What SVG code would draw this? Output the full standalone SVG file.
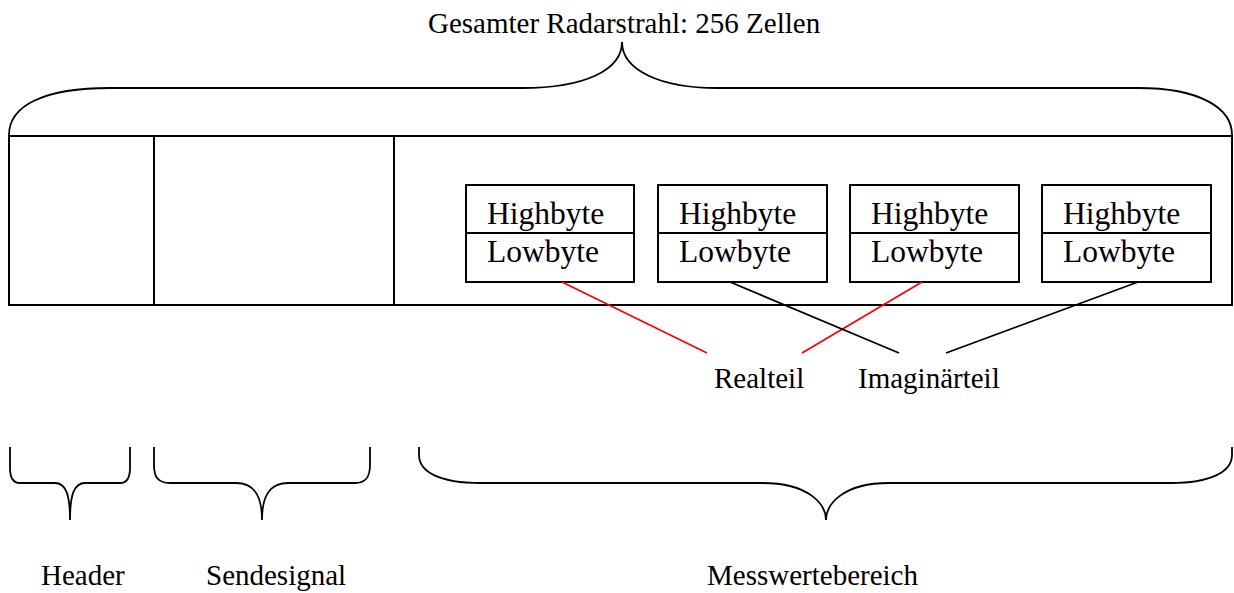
<svg xmlns="http://www.w3.org/2000/svg" width="1234" height="593" viewBox="0 0 1234 593">
<style>
.ln{fill:none;stroke:#000;stroke-width:2}
.br{fill:none;stroke:#000;stroke-width:1.8}
.t{font-family:"Liberation Serif","Times New Roman",serif;font-size:29px;fill:#000}
.bt{font-family:"Liberation Serif","Times New Roman",serif;font-size:31.5px;fill:#000}
.red{stroke:#f00;stroke-width:1.8;fill:none}
.blk{stroke:#000;stroke-width:1.8;fill:none}
</style>
<rect width="1234" height="593" fill="#fff"/>
<g id="title">
<path class="br" d="M9,135 C9,105 45,88 110,88 L522,88 C585,88 622,70 622,42 C622,70 660,88 717,88 L1138,88 C1200,88 1232,108 1232,135"/>
<text class="t" x="428" y="33">Gesamter Radarstrahl: 256 Zellen</text>
</g>
<g id="strahl">
<rect class="ln" x="9" y="136" width="1223" height="169"/>
<line class="ln" x1="154" y1="136" x2="154" y2="305"/>
<line class="ln" x1="394" y1="136" x2="394" y2="305"/>
</g>
<g id="zelle1">
<rect class="ln" x="466" y="185" width="168" height="97"/>
<line class="ln" x1="466" y1="233" x2="634" y2="233"/>
<text class="bt" x="487" y="224">Highbyte</text>
<text class="bt" x="487" y="262">Lowbyte</text>
</g>
<g id="zelle2">
<rect class="ln" x="658" y="185" width="169" height="97"/>
<line class="ln" x1="658" y1="233" x2="827" y2="233"/>
<text class="bt" x="679" y="224">Highbyte</text>
<text class="bt" x="679" y="262">Lowbyte</text>
</g>
<g id="zelle3">
<rect class="ln" x="850" y="185" width="169" height="97"/>
<line class="ln" x1="850" y1="233" x2="1019" y2="233"/>
<text class="bt" x="871" y="224">Highbyte</text>
<text class="bt" x="871" y="262">Lowbyte</text>
</g>
<g id="zelle4">
<rect class="ln" x="1042" y="185" width="169" height="97"/>
<line class="ln" x1="1042" y1="233" x2="1211" y2="233"/>
<text class="bt" x="1063" y="224">Highbyte</text>
<text class="bt" x="1063" y="262">Lowbyte</text>
</g>
<g id="connectors">
<line class="red" x1="562" y1="282" x2="707" y2="353"/>
<line class="red" x1="922" y1="282" x2="802" y2="353"/>
<line class="blk" x1="730" y1="282" x2="899" y2="353"/>
<line class="blk" x1="1138" y1="282" x2="946" y2="353"/>
</g>
<g id="realteil"><text class="t" x="714" y="388">Realteil</text></g>
<g id="imaginaerteil"><text class="t" x="858" y="388">Imaginärteil</text></g>
<g id="header">
<path class="br" d="M10,447 L10,468 C10,478 13,483 20,483 L55,483 C66,483 70,495 70,520 C70,495 74,483 85,483 L120,483 C127,483 130,478 130,468 L130,447"/>
<text class="t" x="41" y="585">Header</text>
</g>
<g id="sendesignal">
<path class="br" d="M154,447 L154,465 C154,477 158,483 170,483 L236,483 C254,483 262,495 262,520 C262,495 270,483 288,483 L355,483 C366,483 370,477 370,465 L370,447"/>
<text class="t" x="206" y="585">Sendesignal</text>
</g>
<g id="messwertebereich">
<path class="br" d="M419,447 L419,455 C419,472 440,483 480,483 L762,483 C810,483 826,505 826,520 C826,505 842,483 889,483 L1171,483 C1210,483 1232,472 1232,455 L1232,447"/>
<text class="t" x="707" y="585">Messwertebereich</text>
</g>
</svg>
